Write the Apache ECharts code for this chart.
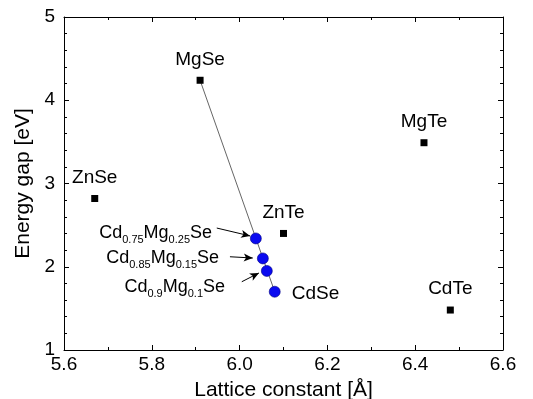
<!DOCTYPE html>
<html>
<head>
<meta charset="utf-8">
<script src="https://cdn.jsdelivr.net/npm/echarts@6/dist/echarts.min.js"></script>
<style>
  html, body { margin: 0; padding: 0; background: #fff; }
  #chart { width: 533px; height: 399px; }
</style>
</head>
<body>
<div id="chart"></div>
<script>
// binary compounds: lattice constant [Å], energy gap [eV]
var binNames = ['ZnSe', 'MgSe', 'MgTe', 'ZnTe', 'CdTe', 'CdSe'];
var binLattice = [5.67, 5.91, 6.42, 6.10, 6.48, 6.08];
var binGap = [2.82, 4.24, 3.49, 2.40, 1.48, 1.70];

// Cd(1-x)Mg(x)Se alloys
var cdFrac = ['0.75', '0.85', '0.9'];
var mgFrac = ['0.25', '0.15', '0.1'];
var alloyLattice = [6.037, 6.053, 6.062];
var alloyGap = [2.34, 2.10, 1.95];
var cdseLattice = 6.08;
var cdseGap = 1.70;

// arrow tails (label side) and heads, in data units
var arrowTail = [[5.948, 2.465], [5.978, 2.12], [6.005, 1.82]];
var arrowHead = [[6.024, 2.37], [6.03, 2.105], [6.044, 1.925]];

var font = 'Liberation Sans, Arial, sans-serif';

var binData = [];
for (var i = 0; i < binNames.length; i++) {
  var d = {name: binNames[i], value: [binLattice[i], binGap[i]]};
  if (binNames[i] === 'CdSe') {
    // CdSe is drawn as a blue dot with the alloys, only its label here
    d.symbolSize = 0;
    d.label = {position: 'right', distance: 17, offset: [0, 2]};
  }
  binData.push(d);
}

// label placement per alloy point
var alloyLabelPos = [
  {distance: 38, offset: [0, -5]},
  {distance: 38, offset: [0, 0]},
  {distance: 36, offset: [0, 16]}
];
var alloyData = [];
for (var i = 0; i < cdFrac.length; i++) {
  alloyData.push({
    value: [alloyLattice[i], alloyGap[i]],
    label: {
      show: true,
      position: 'left',
      distance: alloyLabelPos[i].distance,
      offset: alloyLabelPos[i].offset,
      formatter: '{n|Cd}{s|' + cdFrac[i] + '}{n|Mg}{s|' + mgFrac[i] + '}{n|Se}'
    }
  });
}
alloyData.push({value: [cdseLattice, cdseGap]});

var arrows = [];
for (var i = 0; i < arrowTail.length; i++) {
  arrows.push([{coord: arrowTail[i], symbol: 'none'}, {coord: arrowHead[i], symbol: 'arrow'}]);
}

// guide line MgSe -> CdSe
var mgIdx = binNames.indexOf('MgSe');
var lineData = [[binLattice[mgIdx], binGap[mgIdx]], [cdseLattice, cdseGap]];

var axisBase = {
  type: 'value',
  axisLine: {show: true, onZero: false, lineStyle: {color: '#000', width: 1}},
  axisTick: {show: true, inside: true, length: 5, lineStyle: {color: '#000'}},
  minorTick: {show: true, length: 3, lineStyle: {color: '#000'}},
  splitLine: {show: false}
};

var option = {
  animation: false,
  backgroundColor: '#fff',
  grid: {left: 64, right: 30, top: 17, bottom: 49, outerBoundsMode: 'none', containLabel: false},
  xAxis: [
    Object.assign({}, axisBase, {
      min: 5.6, max: 6.6, interval: 0.2, position: 'bottom',
      minorTick: Object.assign({}, axisBase.minorTick, {splitNumber: 2}),
      axisLabel: {color: '#000', fontSize: 19, fontFamily: font, margin: 5,
        formatter: function (v) { return v.toFixed(1); }},
      name: 'Lattice constant [Å]', nameLocation: 'middle', nameGap: 30,
      nameTextStyle: {color: '#000', fontSize: 21, fontFamily: font}
    }),
    Object.assign({}, axisBase, {
      min: 5.6, max: 6.6, interval: 0.2, position: 'top',
      minorTick: Object.assign({}, axisBase.minorTick, {splitNumber: 2}),
      axisLabel: {show: false}
    })
  ],
  yAxis: [
    Object.assign({}, axisBase, {
      min: 1, max: 5, interval: 1, position: 'left',
      minorTick: Object.assign({}, axisBase.minorTick, {splitNumber: 5}),
      axisLabel: {color: '#000', fontSize: 19, fontFamily: font, margin: 9},
      name: 'Energy gap [eV]', nameLocation: 'middle', nameGap: 24,
      nameTextStyle: {color: '#000', fontSize: 21, fontFamily: font}
    }),
    Object.assign({}, axisBase, {
      min: 1, max: 5, interval: 1, position: 'right',
      minorTick: Object.assign({}, axisBase.minorTick, {splitNumber: 5}),
      axisLabel: {show: false}
    })
  ],
  series: [
    {
      type: 'line',
      data: lineData,
      symbol: 'none',
      lineStyle: {color: '#666', width: 1},
      z: 1
    },
    {
      type: 'scatter',
      data: binData,
      symbol: 'rect',
      symbolSize: 7,
      itemStyle: {color: '#000', opacity: 1},
      label: {
        show: true, position: 'top', distance: 8,
        formatter: '{b}', color: '#000', fontSize: 19, fontFamily: font
      },
      z: 2
    },
    {
      type: 'scatter',
      data: alloyData,
      symbol: 'circle',
      symbolSize: 11,
      itemStyle: {color: '#0a0af0', opacity: 1, borderColor: '#000080', borderWidth: 0.6},
      label: {
        color: '#000', fontFamily: font,
        rich: {
          n: {fontSize: 18, fontFamily: font, color: '#000'},
          s: {fontSize: 11, fontFamily: font, color: '#000', padding: [14, 0, 0, 0]}
        }
      },
      markLine: {
        silent: true,
        symbolSize: [6, 9],
        label: {show: false},
        lineStyle: {color: '#000', width: 1, type: 'solid'},
        data: arrows
      },
      z: 3
    }
  ]
};

echarts.init(document.getElementById('chart')).setOption(option);
</script>
</body>
</html>
